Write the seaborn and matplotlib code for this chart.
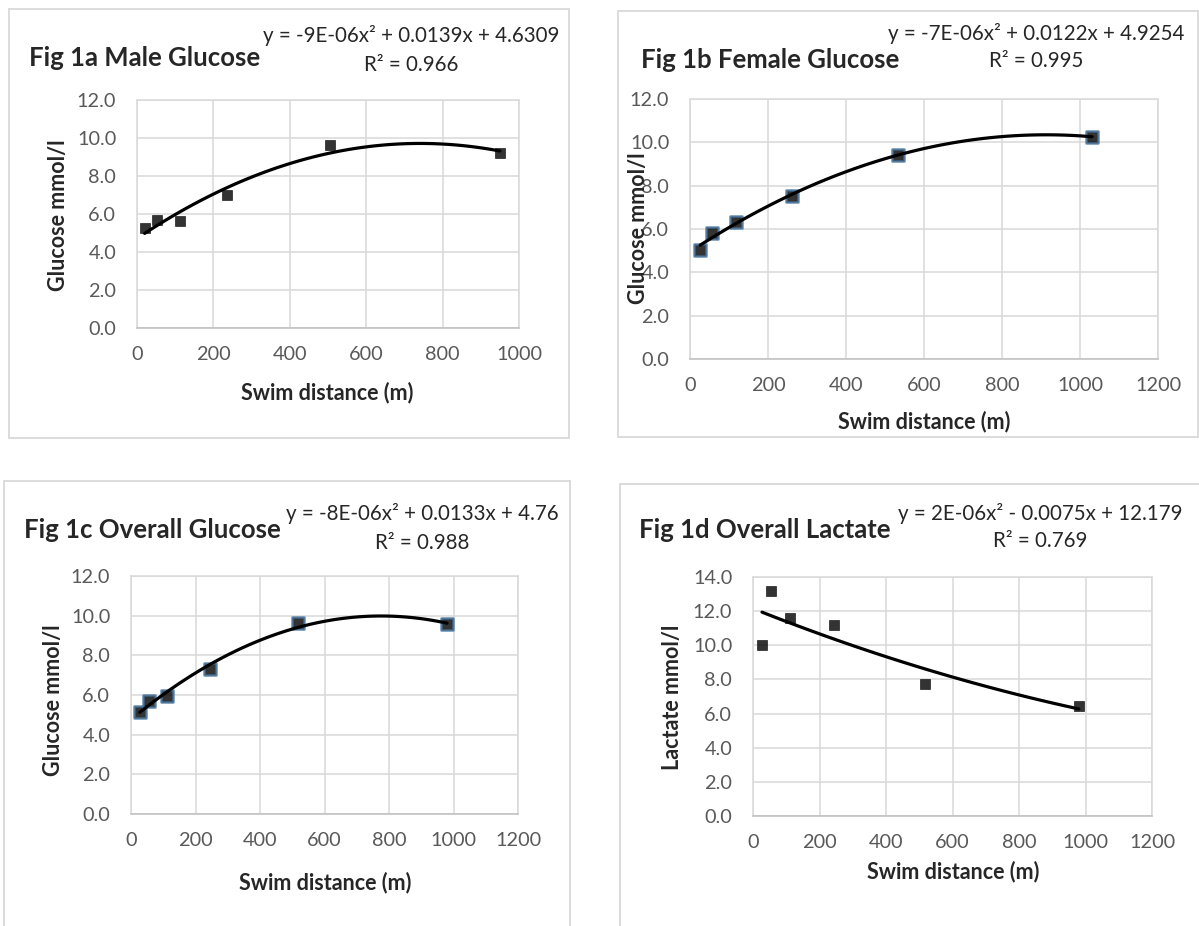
import numpy as np
import matplotlib.pyplot as plt
import seaborn as sns
from matplotlib.patches import Rectangle

# values (swim distance in m, concentration in mmol/l)
dist_male = [20, 53, 112, 235, 505, 950]
glucose_male = [5.25, 5.66, 5.64, 7.0, 9.61, 9.23]

dist_female = [26, 57, 119, 262, 534, 1031]
glucose_female = [5.04, 5.81, 6.34, 7.53, 9.42, 10.26]

dist_overall = [27, 55, 111, 245, 518, 980]
glucose_overall = [5.16, 5.71, 5.95, 7.31, 9.61, 9.58]
lactate_overall = [10.04, 13.16, 11.62, 11.19, 7.76, 6.45]

titles = ["Fig 1a Male Glucose", "Fig 1b Female Glucose",
          "Fig 1c Overall Glucose", "Fig 1d Overall Lactate"]
equations = ["y = -9E-06x\u00b2 + 0.0139x + 4.6309",
             "y = -7E-06x\u00b2 + 0.0122x + 4.9254",
             "y = -8E-06x\u00b2 + 0.0133x + 4.76",
             "y = 2E-06x\u00b2 - 0.0075x + 12.179"]
r_squared = ["R\u00b2 = 0.966", "R\u00b2 = 0.995", "R\u00b2 = 0.988", "R\u00b2 = 0.769"]
ylabels = ["Glucose mmol/l", "Glucose mmol/l", "Glucose mmol/l", "Lactate mmol/l"]
xlabel = "Swim distance (m)"

sns.set_style("white")
plt.rcParams['font.family'] = ['Lato', 'DejaVu Sans']

W, H = 1199, 926
fig = plt.figure(figsize=(W / 100, H / 100), dpi=100)

GRID = '#D9D9D9'
TICK = '#595959'


def fx(px):
    return px / W


def fy(py):
    return 1 - py / H


def panel(box, axpx, x, y, xmax, ymax, title, title_xy, eq, r2, eq_x, eq_y,
          ylab, ylab_xy, xlab_xy, edge=None):
    # light grey frame round the whole chart
    l, t, r, b = box
    fig.patches.append(Rectangle((fx(l), fy(b)), fx(r - l), (b - t) / H,
                                 transform=fig.transFigure, fill=False,
                                 ec=GRID, lw=1.3))
    al, at, ar, ab = axpx
    ax = fig.add_axes([fx(al), fy(ab), fx(ar - al), (ab - at) / H])
    sk = dict(s=60, color='black', zorder=3)
    if edge:
        sk.update(s=75, edgecolors=edge, linewidths=1.8)
    else:
        sk.update(edgecolors='black', linewidths=0.5)
    sns.regplot(x=x, y=y, ax=ax, order=2, ci=None, marker='s', color='black',
                scatter_kws=sk, line_kws=dict(color='black', lw=2.3, zorder=4))
    ax.set_xlim(0, xmax)
    ax.set_ylim(0, ymax)
    ax.set_xticks(np.arange(0, xmax + 1, 200))
    ax.set_yticks(np.arange(0, ymax + 0.1, 2))
    ax.set_yticklabels([f"{v:.1f}" for v in np.arange(0, ymax + 0.1, 2)])
    ax.grid(True, color=GRID, lw=1.1)
    ax.set_axisbelow(True)
    for s in ax.spines.values():
        s.set_color(GRID)
        s.set_linewidth(1.1)
    ax.spines['bottom'].set_color('#BFBFBF')
    ax.tick_params(length=0, labelsize=14.3, labelcolor=TICK)
    ax.tick_params(axis='y', pad=15)
    ax.tick_params(axis='x', pad=13)
    ax.set_xlabel(xlabel, fontsize=15.5, fontweight='bold', va='center', ha='center')
    ax.xaxis.set_label_coords((xlab_xy[0] - al) / (ar - al), (ab - xlab_xy[1]) / (ab - at))
    ax.set_ylabel(ylab, fontsize=15.5, fontweight='bold', va='center', ha='center')
    ax.yaxis.set_label_coords((ylab_xy[0] - al) / (ar - al), (ab - ylab_xy[1]) / (ab - at))
    fig.text(fx(title_xy[0]), fy(title_xy[1]), title, fontsize=18.5,
             fontweight='bold', ha='left', va='center')
    fig.text(fx(eq_x), fy(eq_y[0]), eq, fontsize=14.8, ha='center', va='center')
    fig.text(fx(eq_x), fy(eq_y[1]), r2, fontsize=14.8, ha='center', va='center')
    return ax


panel((9, 9, 569, 438), (137, 100, 519, 328), dist_male, glucose_male, 1000, 12,
      titles[0], (29, 58), equations[0], r_squared[0], 411, (36, 65),
      ylabels[0], (59, 215), (327, 393))
panel((618, 11, 1198, 437), (690, 99, 1158, 359), dist_female, glucose_female, 1200, 12,
      titles[1], (641, 60), equations[1], r_squared[1], 1036, (33, 61),
      ylabels[1], (638, 228), (924, 422), edge='#41719C')
panel((4, 481, 570, 940), (131, 576, 518, 814), dist_overall, glucose_overall, 1200, 12,
      titles[2], (24, 530), equations[2], r_squared[2], 422, (514, 543),
      ylabels[2], (54, 700), (325, 883), edge='#41719C')
panel((620, 484, 1210, 940), (753, 577, 1152, 816), dist_overall, lactate_overall, 1200, 14,
      titles[3], (639, 530), equations[3], r_squared[3], 1040, (514, 541),
      ylabels[3], (673, 697), (953, 872))

fig.savefig("out.png", dpi=100, facecolor='white')
